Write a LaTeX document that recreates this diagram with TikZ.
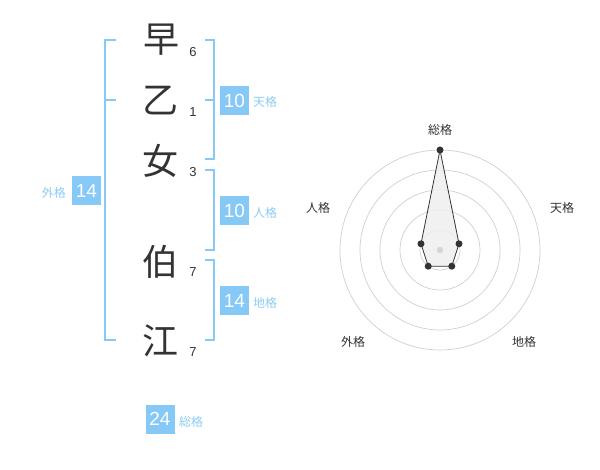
\documentclass[tikz,border=0pt]{standalone}
\usepackage{fontspec}
\setmainfont{Liberation Sans}
\newfontfamily\cjk{Noto Sans CJK JP}
\definecolor{skyb}{HTML}{86C9F7}
\definecolor{labb}{HTML}{8CCBF5}
\definecolor{ink}{HTML}{333333}
\definecolor{ringc}{HTML}{CFCFCF}
\definecolor{polyf}{HTML}{EFEFEF}
\begin{document}
\begin{tikzpicture}[x=1pt,y=-1pt,
  kanji/.style={font=\cjk\fontsize{36}{36}\selectfont, text=ink, inner sep=0pt},
  stroke/.style={font=\fontsize{13}{13}\selectfont, text=ink, inner sep=0pt},
  valbox/.style={fill=skyb, text=white, minimum width=29pt, minimum height=29pt, inner sep=0pt, font=\fontsize{19}{19}\selectfont},
  kaku/.style={font=\cjk\fontsize{12}{12}\selectfont, text=labb, inner sep=0pt},
  brk/.style={draw=skyb, line width=2pt},
  ring/.style={draw=ringc, line width=0.7pt},
  axlab/.style={font=\cjk\fontsize{12}{12}\selectfont, text=ink, inner sep=0pt},
  pt/.style={circle, fill=ink, inner sep=0pt, minimum size=7pt}]
\path[use as bounding box] (0,0) rectangle (600,470);
% characters
\node[kanji] (c1) at (161,40) {早};
\node[kanji] (c2) at (160,101) {乙};
\node[kanji] (c3) at (160,161) {女};
\node[kanji] (c4) at (160,262) {伯};
\node[kanji] (c5) at (160,341) {江};
\node[stroke] (s1) at (193,52) {6};
\node[stroke] (s2) at (193,112) {1};
\node[stroke] (s3) at (193,172) {3};
\node[stroke] (s4) at (193,272) {7};
\node[stroke] (s5) at (193,352) {7};
% brackets
\coordinate (la) at (116,40);
\coordinate (lb) at (116,340);
\draw[brk] (la) -- (105,40) -- (105,340) -- (lb);
\draw[brk] (105,100) -- (116,100);
\draw[brk] (205,40) -- (214,40) -- (214,159) -- (205,159);
\draw[brk] (205,100) -- (214,100);
\draw[brk] (205,170) -- (214,170) -- (214,250) -- (205,250);
\draw[brk] (205,260) -- (214,260) -- (214,340) -- (205,340);
% value boxes
\node[valbox] (ten) at (234.5,100.5) {10};
\node[kaku, anchor=west] (tenl) at (253,102) {天格};
\node[valbox] (jin) at (234.5,210.5) {10};
\node[kaku, anchor=west] (jinl) at (253,213) {人格};
\node[valbox] (chi) at (234.5,300.5) {14};
\node[kaku, anchor=west] (chil) at (253,303) {地格};
\node[valbox] (gai) at (86.5,190.5) {14};
\node[kaku, anchor=east] (gail) at (66,193) {外格};
\node[valbox] (sou) at (160,419) {24};
\node[kaku, anchor=west] (soul) at (179,422) {総格};
% radar
\coordinate (o) at (440,250);
\foreach \r in {20,40,60,80,100} \draw[ring] (o) circle[radius=\r];
\fill[ringc!90!black!60] (o) circle[radius=3.2];
\coordinate (p1) at (440,150);
\coordinate (p2) at (459.0,243.8);
\coordinate (p3) at (451.8,266.2);
\coordinate (p4) at (428.2,266.2);
\coordinate (p5) at (421.0,243.8);
\draw[ink, fill=polyf, fill opacity=0.85, line width=0.8pt] (p1) -- (p2) -- (p3) -- (p4) -- (p5) -- cycle;
\fill[ringc!90!black!60] (o) circle[radius=3.2];
\foreach \p in {p1,p2,p3,p4,p5} \node[pt] at (\p) {};
\node[axlab] (a1) at (440,130) {総格};
\node[axlab] (a2) at (562,208) {天格};
\node[axlab] (a3) at (524,342) {地格};
\node[axlab] (a4) at (353,342) {外格};
\node[axlab] (a5) at (318,208) {人格};
\end{tikzpicture}
\end{document}
